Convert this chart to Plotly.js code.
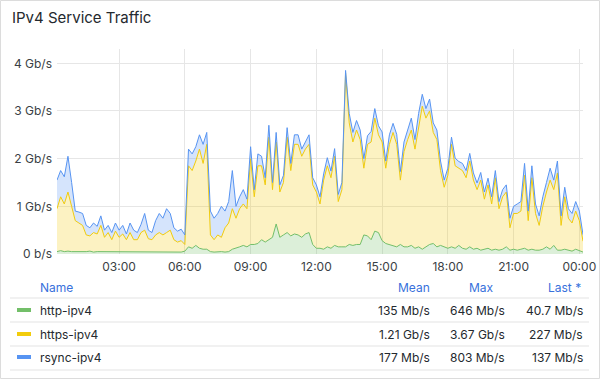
<!DOCTYPE html>
<html>
<head>
<meta charset="utf-8">
<script src="https://cdn.plot.ly/plotly-3.0.1.min.js"></script>
<style>
  html, body { margin: 0; padding: 0; background: #ffffff; }
  #chart { width: 600px; height: 380px; }
</style>
</head>
<body>
<div id="chart"></div>
<script>
// ---- Data (Mb/s), 10-minute samples from 00:10 to 00:10 next day ----
const startTime = "2024-01-01T00:10:00";
const stepMinutes = 10;

const httpIpv4 = [
  50,70,50,60,50,50,   50,40,50,60,40,50,   50,40,50,50,40,50,   50,50,40,50,50,40,
  50,40,50,50,40,50,   40,50,40,50,40,60,   150,120,180,120,100,100, 50,40,50,50,40,50,
  100,120,150,180,150,200, 200,220,300,250,300,350, 630,350,400,450,380,420, 400,350,420,450,200,120,
  120,100,150,120,180,150, 150,150,200,180,200,200, 400,380,300,480,450,280, 220,200,180,150,200,150,
  150,180,120,150,100,150, 200,220,150,180,150,120, 150,120,180,120,100,150, 100,120,80,100,120,80,
  100,80,100,150,80,100, 80,100,120,80,100,80, 80,100,150,100,180,80, 80,100,80,60,100,70,41
];
const httpsIpv4 = [
  900,1130,1000,1240,950,650,  600,560,350,320,410,370,  550,310,400,250,440,300,  370,250,410,250,250,410,
  450,280,250,350,410,350,     410,450,260,200,240,140,  1700,1630,1770,2080,1800,2200, 350,260,350,300,510,600,
  850,630,800,870,800,1800,    1000,1630,1550,1200,2150,1000, 1720,950,1100,2000,1370,1880, 1900,1700,1780,1850,1250,1180,
  930,1450,1700,1480,1870,950, 1200,3650,2550,2170,2400,2200, 1400,1920,2050,2370,2050,2070, 1580,2100,2370,2150,1350,2000,
  2250,2420,2080,2550,3000,2700, 2800,2330,2250,1570,1250,1530, 2150,1730,1620,1630,1500,1800, 1450,1230,1470,1050,1330,970,
  1500,870,1100,1150,470,750,  770,800,1530,620,1500,770, 520,900,1150,1450,1170,1620, 520,1100,670,590,800,630,227
];
const rsyncIpv4 = [
  600,550,570,750,500,200,  230,250,200,170,200,160,  200,150,150,150,170,150,  180,120,200,200,150,170,
  350,180,150,300,400,350,  500,350,250,230,240,200,  350,350,300,300,400,250,  500,450,450,650,350,450,
  800,250,250,300,200,250,  150,250,200,150,250,150,  200,150,150,200,150,200,  200,150,150,200,150,150,
  150,130,170,140,160,150,  150,50,200,200,200,200,   200,180,220,200,190,210,  150,200,190,210,180,200,
  200,250,200,250,250,200,  250,200,200,200,150,150,  150,160,140,150,150,160,  150,140,160,150,140,150,
  150,150,150,150,200,150,  200,200,250,200,250,200,  200,200,200,250,200,250,  200,200,200,200,200,200,137
];

const seriesNames = ["http-ipv4", "https-ipv4", "rsync-ipv4"];
const seriesColors = ["#73bf69", "#f2cc0c", "#5794f2"];
const seriesFills = ["rgba(115,191,105,0.25)", "rgba(242,204,12,0.25)", "rgba(87,148,242,0.25)"];

const legendMean = ["135 Mb/s", "1.21 Gb/s", "177 Mb/s"];
const legendMax  = ["646 Mb/s", "3.67 Gb/s", "803 Mb/s"];
const legendLast = ["40.7 Mb/s", "227 Mb/s", "137 Mb/s"];
const legendHeaders = ["Name", "Mean", "Max", "Last *"];

const yTickVals = [0, 1000, 2000, 3000, 4000];
const yTickText = ["0 b/s", "1 Gb/s", "2 Gb/s", "3 Gb/s", "4 Gb/s"];

// ---- Build ----
const t0 = new Date(startTime + "Z").getTime();
const xs = httpIpv4.map((_, i) => t0 + i * stepMinutes * 60000);
const dayStart = new Date("2024-01-01T00:00:00Z").getTime();

const seriesValues = [httpIpv4, httpsIpv4, rsyncIpv4];
const traces = seriesValues.map((vals, k) => ({
  type: "scatter",
  mode: "lines",
  x: xs,
  y: vals,
  name: seriesNames[k],
  stackgroup: "one",
  line: { color: seriesColors[k], width: 1 },
  fillcolor: seriesFills[k],
  hoverinfo: "skip"
}));

// Pixel geometry
const W = 600, H = 380;
const PL = 57, PR = 583, PT = 49, PB = 254;
const fx = px => (px - PL) / (PR - PL);
const fy = py => (PB - py) / (PB - PT);

const FONT = 'Inter, "Noto Sans", "DejaVu Sans", sans-serif';
const textColor = "#24292e";
const headColor = "#3871dc";

const annotations = [];
const shapes = [];

// Title
annotations.push({
  xref: "paper", yref: "paper", x: fx(10), y: fy(17),
  xanchor: "left", yanchor: "middle", showarrow: false,
  text: "IPv4 Service Traffic",
  font: { family: FONT, size: 15, color: textColor, weight: 400 }
});

// Table header
const headerY = 287;
const colRightHeader = [null, 432, 496, 583];
annotations.push({
  xref: "paper", yref: "paper", x: fx(38), y: fy(headerY),
  xanchor: "left", yanchor: "middle", showarrow: false,
  text: legendHeaders[0], font: { family: FONT, size: 12, color: headColor }
});
for (let c = 1; c < 4; c++) {
  annotations.push({
    xref: "paper", yref: "paper", x: fx(colRightHeader[c]), y: fy(headerY),
    xanchor: "right", yanchor: "middle", showarrow: false,
    text: legendHeaders[c], font: { family: FONT, size: 12, color: headColor }
  });
}

// Separators
[298, 322, 346, 370].forEach(py => {
  shapes.push({
    type: "line", xref: "paper", yref: "paper",
    x0: fx(10), x1: fx(589), y0: fy(py), y1: fy(py),
    line: { color: "#e3e3e3", width: 1 }
  });
});

// Rows
const rowY = [310, 334, 357];
const colRightVals = [432, 507, 585];
seriesNames.forEach((name, k) => {
  const py = rowY[k];
  shapes.push({
    type: "rect", xref: "paper", yref: "paper",
    x0: fx(17), x1: fx(31), y0: fy(py - 2), y1: fy(py + 2),
    fillcolor: seriesColors[k], line: { width: 0 }
  });
  annotations.push({
    xref: "paper", yref: "paper", x: fx(38), y: fy(py),
    xanchor: "left", yanchor: "middle", showarrow: false,
    text: name, font: { family: FONT, size: 12, color: textColor }
  });
  [legendMean[k], legendMax[k], legendLast[k]].forEach((v, c) => {
    annotations.push({
      xref: "paper", yref: "paper", x: fx(colRightVals[c]), y: fy(py),
      xanchor: "right", yanchor: "middle", showarrow: false,
      text: v, font: { family: FONT, size: 12, color: textColor }
    });
  });
});

// Panel border
shapes.push({
  type: "rect", xref: "paper", yref: "paper", layer: "below",
  x0: fx(0.5), x1: fx(599.5), y0: fy(0.5), y1: fy(378.5),
  line: { color: "#dcdcdc", width: 1 }, fillcolor: "rgba(0,0,0,0)"
});

const layout = {
  width: W, height: H,
  margin: { l: PL, r: W - PR, t: PT, b: H - PB, pad: 0 },
  paper_bgcolor: "#ffffff", plot_bgcolor: "#ffffff",
  showlegend: false,
  hovermode: false,
  font: { family: FONT, size: 12, color: "#3a3f45" },
  xaxis: {
    type: "date",
    range: [xs[0], xs[xs.length - 1]],
    tick0: dayStart, dtick: 3 * 3600000,
    tickformat: "%H:%M",
    showgrid: true, gridcolor: "#e6e6e6", gridwidth: 1,
    zeroline: false, showline: false, ticks: "",
    ticklabelstandoff: 4,
    tickfont: { family: FONT, size: 12, color: "#3a3f45" }
  },
  yaxis: {
    range: [0, 4300],
    tickvals: yTickVals, ticktext: yTickText,
    showgrid: true, gridcolor: "#e6e6e6", gridwidth: 1,
    zeroline: false, showline: false, ticks: "",
    ticklabelstandoff: 4,
    tickfont: { family: FONT, size: 12, color: "#3a3f45" }
  },
  annotations: annotations,
  shapes: shapes
};

Plotly.newPlot("chart", traces, layout, { staticPlot: true, displayModeBar: false });
</script>
</body>
</html>
